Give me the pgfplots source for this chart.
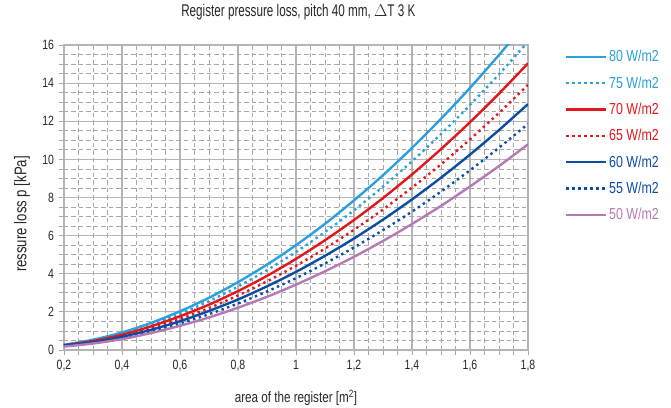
\documentclass[border=0pt]{standalone}
\usepackage{fontspec}
\setmainfont{Liberation Sans}[FakeStretch=0.78]
\newfontfamily\titlefont{Liberation Sans}[FakeStretch=0.69]
\usepackage{pgfplots}
\pgfplotsset{compat=1.18}
\definecolor{cA}{HTML}{2AA0DC}
\definecolor{cB}{HTML}{E3161B}
\definecolor{cC}{HTML}{0B4DA2}
\definecolor{cD}{HTML}{B57AB5}
\definecolor{gridmaj}{HTML}{B4B4B4}
\definecolor{gridmin}{HTML}{A8A8A8}
\begin{document}
\begin{tikzpicture}
\begin{axis}[name=ax,
  scale only axis, width=464bp, height=305bp,
  xmin=0.2, xmax=1.8, ymin=0, ymax=16,
  xtick={0.2,0.4,...,1.8}, ytick={0,2,...,16},
  minor x tick num=3, minor y tick num=3,
  grid=both,
  major grid style={gridmaj, line width=1.2bp},
  minor grid style={gridmin, line width=0.7bp, dash pattern=on 4.5bp off 3bp},
  axis line style={gridmaj, line width=1.2bp},
  tick align=outside, tick style={gridmin, line width=0.8bp},
  major tick length=5bp, minor tick length=5bp,
  xtick pos=left, ytick pos=left,
  /pgf/number format/assume math mode=true,
  /pgf/number format/use comma,
  ticklabel style={font=\fontsize{13.5}{15}\selectfont, text=black!85},
  xticklabel style={yshift=-2bp},
  yticklabel style={xshift=-1.5bp},
  xlabel={area of the register [m\textsuperscript{2}]},
  ylabel={ressure loss p [kPa]},
  label style={font=\fontsize{15}{17}\selectfont, text=black!85},
  xlabel style={at={(axis description cs:0.5,-0.157)}, anchor=center},
  ylabel style={at={(axis description cs:-0.0905,0.446)}, anchor=center, font=\fontsize{17}{19}\selectfont},
  title={Register pressure loss, pitch 40 mm, $\Delta$T 3 K},
  title style={at={(axis description cs:0.505,1)}, anchor=base, yshift=22.5bp, font=\titlefont\fontsize{17}{19}\selectfont, text=black!85},
  legend style={at={(axis description cs:1,1)}, anchor=north west, xshift=34bp, yshift=-1.5bp,
    draw=none, fill=none, font=\fontsize{16}{18}\selectfont, row sep=10.3bp,
    nodes={inner sep=1.5bp}},
  legend cell align=left,
  legend image code/.code={\draw[#1, line width=2.4bp] (0bp,0bp) -- (40bp,0bp);},
  every axis plot/.append style={line width=2.4bp, smooth},
]
\addplot[cA] coordinates {(0.2,0.27)(0.3,0.54)(0.4,0.92)(0.5,1.42)(0.6,2.03)(0.7,2.74)(0.8,3.56)(0.9,4.48)(1.0,5.50)(1.1,6.62)(1.2,7.85)(1.3,9.17)(1.4,10.60)(1.5,12.13)(1.6,13.75)(1.7,15.48)(1.8,17.30)};
\addlegendentry{\textcolor{cA}{80 W/m2}}
\addplot[cA, dash pattern=on 2.4bp off 3.6bp] coordinates {(0.2,0.26)(0.3,0.50)(0.4,0.86)(0.5,1.33)(0.6,1.90)(0.7,2.56)(0.8,3.33)(0.9,4.19)(1.0,5.14)(1.1,6.19)(1.2,7.33)(1.3,8.57)(1.4,9.90)(1.5,11.33)(1.6,12.85)(1.7,14.47)(1.8,16.17)};
\addlegendentry{\textcolor{cA}{75 W/m2}}
\addplot[cB] coordinates {(0.2,0.25)(0.3,0.47)(0.4,0.80)(0.5,1.24)(0.6,1.77)(0.7,2.38)(0.8,3.09)(0.9,3.89)(1.0,4.78)(1.1,5.76)(1.2,6.82)(1.3,7.97)(1.4,9.21)(1.5,10.54)(1.6,11.95)(1.7,13.45)(1.8,15.04)};
\addlegendentry{\textcolor{cB}{70 W/m2}}
\addplot[cB, dash pattern=on 2.4bp off 3.6bp] coordinates {(0.2,0.24)(0.3,0.44)(0.4,0.74)(0.5,1.14)(0.6,1.63)(0.7,2.20)(0.8,2.86)(0.9,3.60)(1.0,4.42)(1.1,5.32)(1.2,6.31)(1.3,7.37)(1.4,8.52)(1.5,9.74)(1.6,11.05)(1.7,12.44)(1.8,13.91)};
\addlegendentry{\textcolor{cB}{65 W/m2}}
\addplot[cC] coordinates {(0.2,0.24)(0.3,0.41)(0.4,0.69)(0.5,1.06)(0.6,1.51)(0.7,2.05)(0.8,2.65)(0.9,3.34)(1.0,4.10)(1.1,4.94)(1.2,5.85)(1.3,6.84)(1.4,7.90)(1.5,9.04)(1.6,10.25)(1.7,11.54)(1.8,12.90)};
\addlegendentry{\textcolor{cC}{60 W/m2}}
\addplot[cC, dash pattern=on 2.4bp off 3.6bp] coordinates {(0.2,0.22)(0.3,0.38)(0.4,0.63)(0.5,0.98)(0.6,1.39)(0.7,1.88)(0.8,2.44)(0.9,3.07)(1.0,3.77)(1.1,4.54)(1.2,5.38)(1.3,6.29)(1.4,7.26)(1.5,8.31)(1.6,9.43)(1.7,10.61)(1.8,11.86)};
\addlegendentry{\textcolor{cC}{55 W/m2}}
\addplot[cD] coordinates {(0.2,0.18)(0.3,0.34)(0.4,0.57)(0.5,0.89)(0.6,1.27)(0.7,1.71)(0.8,2.22)(0.9,2.79)(1.0,3.43)(1.1,4.13)(1.2,4.89)(1.3,5.72)(1.4,6.61)(1.5,7.56)(1.6,8.58)(1.7,9.65)(1.8,10.79)};
\addlegendentry{\textcolor{cD}{50 W/m2}}
\end{axis}
\pgfresetboundingbox
\path (ax.south west) ++(-64bp,-58bp) rectangle ++(671bp,408bp);
\end{tikzpicture}
\end{document}
